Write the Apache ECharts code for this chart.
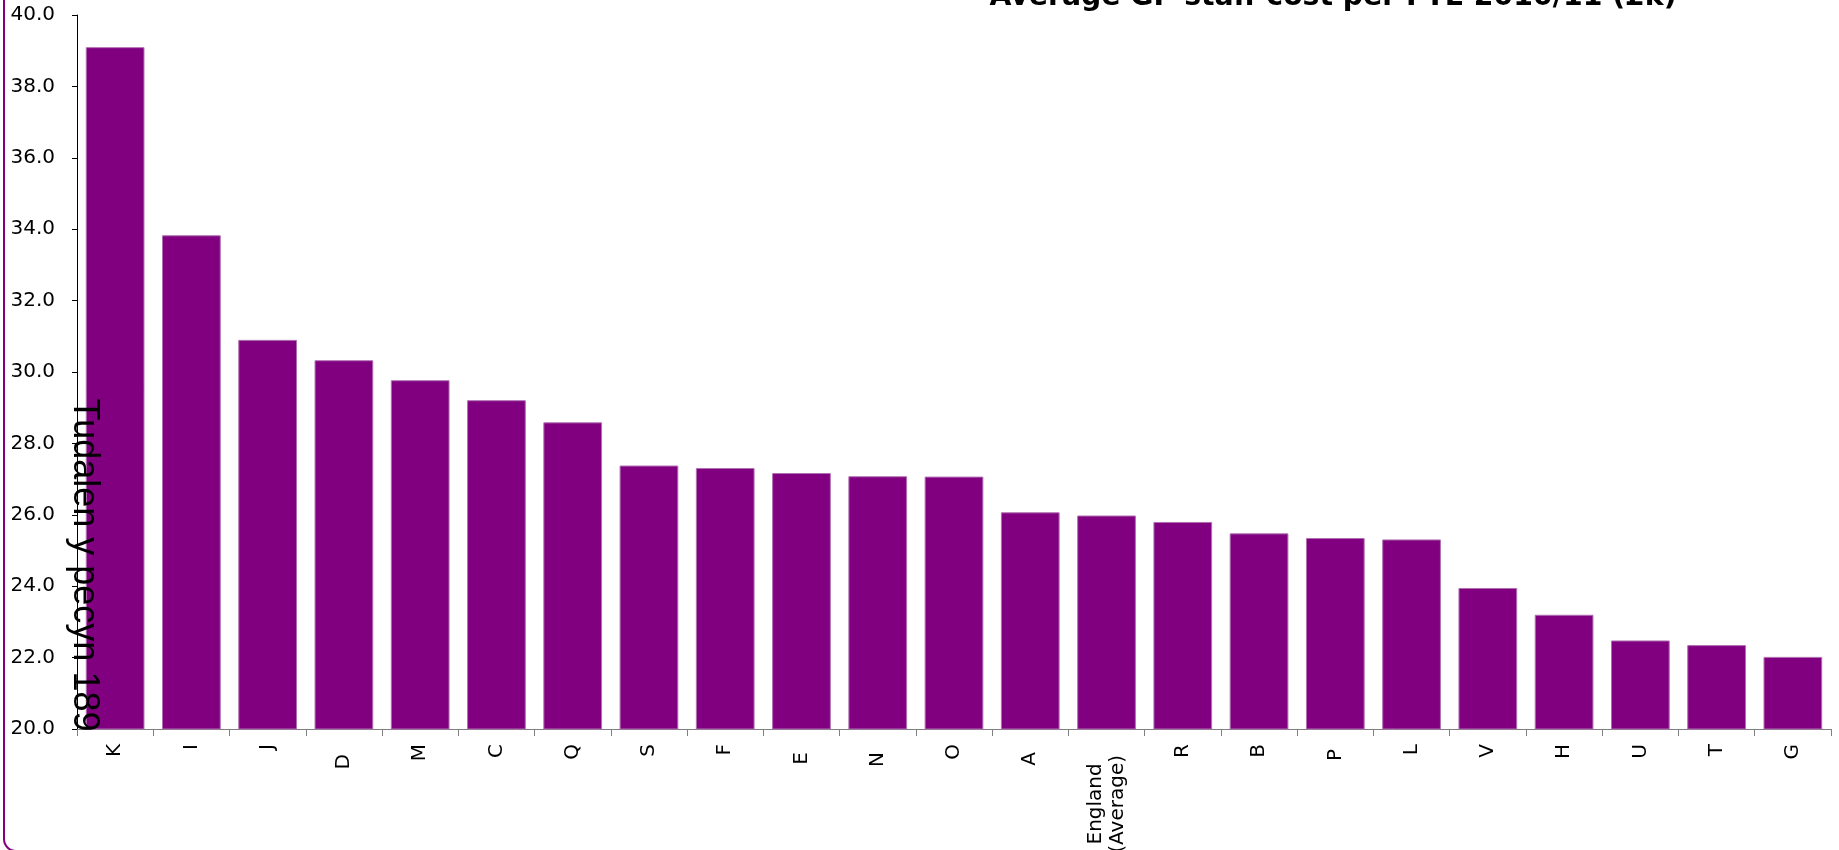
<!DOCTYPE html>
<html>
<head>
<meta charset="utf-8">
<title>Average GP staff cost per FTE 2010/11 (£k)</title>
<script src="https://cdn.jsdelivr.net/npm/echarts@6/dist/echarts.min.js"></script>
<style>
  html, body { margin: 0; padding: 0; background: #fff; }
  #chart { width: 1839px; height: 850px; }
</style>
</head>
<body>
<div id="chart"></div>
<script>
// Practices, ordered from highest to lowest cost, with the England average among them
const categories = ['K', 'I', 'J', 'D', 'M', 'C', 'Q', 'S', 'F', 'E', 'N', 'O', 'A',
  'England\n(Average)', 'R', 'B', 'P', 'L', 'V', 'H', 'U', 'T', 'G'];

// Average GP staff cost per FTE, £k
const staffCost = [39.10, 33.83, 30.90, 30.33, 29.77, 29.21, 28.59, 27.38, 27.31, 27.17,
  27.08, 27.07, 26.07, 25.98, 25.80, 25.48, 25.35, 25.31, 23.95, 23.20, 22.48, 22.35, 22.02];

// Value axis range and step
const yMin = 20;
const yMax = 40;
const yStep = 2;

const titleText = 'Average GP staff cost per FTE 2010/11 (£k)';
const pageMark = 'Tudalen y pecyn 189';

const labelFont = 'DejaVu Sans';
const labelSize = 20;

// A few category labels sit slightly further from the axis
const labelShift = { D: 10, E: 8, N: 8, A: 8, P: 5 };
const twoLineShift = 11;

const rich = {
  line: { align: 'center', padding: [0, twoLineShift, 0, 0], fontFamily: labelFont,
    fontSize: labelSize, color: '#000', lineHeight: 22 }
};
Object.keys(labelShift).forEach(function (k) {
  rich['s' + k] = { padding: [0, labelShift[k], 0, 0], fontFamily: labelFont, fontSize: labelSize, color: '#000' };
});

const chart = echarts.init(document.getElementById('chart'), null, { renderer: 'canvas' });

chart.setOption({
  animation: false,
  backgroundColor: '#ffffff',
  grid: { left: 77, right: 8, top: 15, bottom: 121, containLabel: false, outerBoundsMode: 'none' },
  xAxis: {
    type: 'category',
    data: categories,
    boundaryGap: true,
    axisLine: { show: true, lineStyle: { color: '#808080', width: 1 } },
    axisTick: { show: true, inside: false, length: 7, alignWithLabel: false, interval: 0,
      lineStyle: { color: '#808080', width: 1 } },
    axisLabel: {
      interval: 0,
      rotate: 90,
      margin: 15,
      hideOverlap: false,
      fontFamily: labelFont,
      fontSize: labelSize,
      color: '#000',
      lineHeight: 22,
      formatter: function (value) {
        if (value.indexOf('\n') >= 0) {
          return value.split('\n').map(function (l) { return '{line|' + l + '}'; }).join('\n');
        }
        if (labelShift[value] !== undefined) {
          return '{s' + value + '|' + value + '}';
        }
        return value;
      },
      rich: rich
    },
    splitLine: { show: false }
  },
  yAxis: {
    type: 'value',
    min: yMin,
    max: yMax,
    interval: yStep,
    axisLine: { show: true, lineStyle: { color: '#000', width: 1 } },
    axisTick: { show: true, inside: false, length: 5, lineStyle: { color: '#000', width: 1 } },
    axisLabel: {
      margin: 22,
      fontFamily: labelFont,
      fontSize: labelSize,
      color: '#000',
      formatter: function (v) { return v.toFixed(1); }
    },
    splitLine: { show: false }
  },
  series: [{
    type: 'bar',
    data: staffCost,
    barCategoryGap: '23%',
    itemStyle: { color: '#800080', borderColor: '#b070b0', borderWidth: 1 },
    emphasis: { disabled: true }
  }],
  graphic: [
    {
      type: 'rect',
      z: 50,
      silent: true,
      shape: { x: 4, y: -20, width: 1900, height: 871, r: 12 },
      style: { fill: 'none', stroke: '#800080', lineWidth: 2 }
    },
    {
      type: 'text',
      z: 100,
      silent: true,
      x: 1333,
      y: -2,
      style: {
        text: titleText,
        font: 'bold 28.3px "DejaVu Sans"',
        fill: '#000',
        align: 'center',
        verticalAlign: 'middle'
      }
    },
    {
      type: 'text',
      z: 100,
      silent: true,
      x: 84,
      y: 565,
      rotation: -Math.PI / 2,
      style: {
        text: pageMark,
        font: '36px "Liberation Sans"',
        fill: '#000',
        align: 'center',
        verticalAlign: 'middle'
      }
    }
  ]
});
</script>
</body>
</html>
